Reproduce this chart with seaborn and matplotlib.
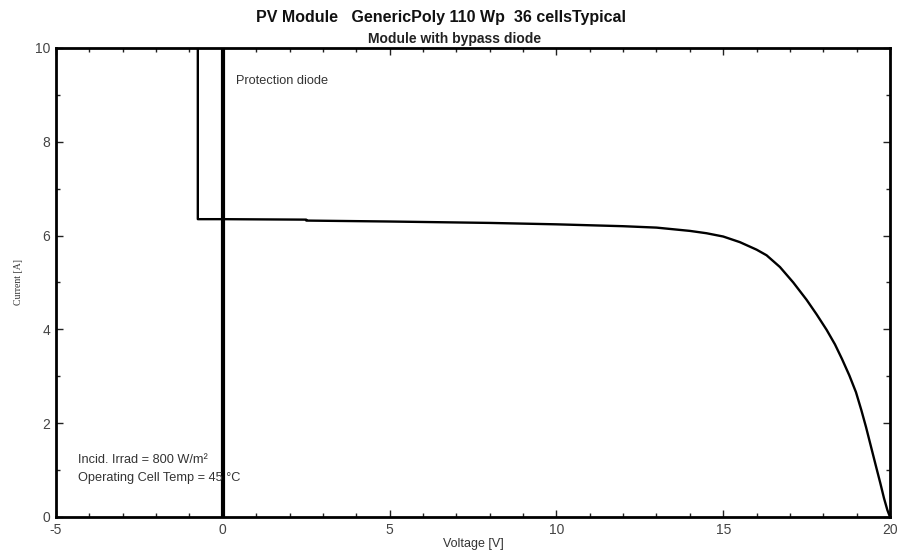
"""PV module I-V curve with bypass diode."""

import matplotlib
matplotlib.use("Agg")
import matplotlib.pyplot as plt
import pandas as pd
import seaborn as sns

# I-V curve (voltage [V], current [A])
voltage = [-0.75, -0.75, 0.0, 2.5, 2.5, 5.0, 8.0, 10.0, 12.0, 13.0, 14.0, 14.5,
           15.0, 15.5, 16.0, 16.3, 16.7, 17.1, 17.5, 17.8, 18.1, 18.35, 18.56,
           18.78, 18.98, 19.14, 19.28, 19.43, 19.58, 19.71, 19.82, 19.92, 20.0]
current = [10.0, 6.35, 6.35, 6.34, 6.32, 6.30, 6.27, 6.24, 6.20, 6.17, 6.10, 6.05,
           5.98, 5.86, 5.70, 5.58, 5.33, 5.00, 4.63, 4.32, 3.99, 3.68, 3.37,
           3.02, 2.66, 2.28, 1.92, 1.50, 1.08, 0.72, 0.40, 0.15, 0.0]

diode_x = [0.0, 0.0]
diode_y = [0.0, 10.0]

title = "PV Module   GenericPoly 110 Wp  36 cellsTypical"
subtitle = "Module with bypass diode"
notes = ["Incid. Irrad = 800 W/m²", "Operating Cell Temp = 45 °C"]


def main() -> None:
    sns.set_style("ticks")
    plt.rcParams["font.family"] = ["Liberation Sans", "DejaVu Sans"]
    plt.rcParams["axes.unicode_minus"] = False

    fig = plt.figure(figsize=(9.01, 5.54), dpi=100)
    ax = fig.add_axes([0.0622, 0.0668, 0.9256, 0.8466])

    df = pd.DataFrame({"voltage": voltage, "current": current})
    sns.lineplot(data=df, x="voltage", y="current", sort=False, estimator=None,
                 color="black", linewidth=1.7, ax=ax)
    sns.lineplot(x=diode_x, y=diode_y, sort=False, estimator=None,
                 color="black", linewidth=3.0, ax=ax)

    ax.set_xlim(-5, 20)
    ax.set_ylim(0, 10)
    ax.set_xticks([-5, 0, 5, 10, 15, 20])
    ax.set_xticks(range(-5, 21), minor=True)
    ax.set_yticks([0, 2, 4, 6, 8, 10])
    ax.set_yticks(range(0, 11), minor=True)
    ax.tick_params(which="both", direction="in", top=True, right=True,
                   colors="#222222", labelcolor="#444444", labelsize=10,
                   width=1)
    ax.tick_params(which="major", length=5, pad=4)
    ax.tick_params(which="minor", length=3)
    for s in ax.spines.values():
        s.set_linewidth(2)
        s.set_color("black")

    ax.set_xlabel("Voltage [V]", fontsize=9, color="#333333", labelpad=1)
    ax.set_ylabel("Current [A]", fontsize=7, color="#333333",
                  family=["Liberation Serif", "DejaVu Serif"], labelpad=9)

    fig.text(0.489, 0.968, title, ha="center", va="center", fontsize=11.5,
             fontweight="bold", color="#111111")
    fig.text(0.505, 0.930, subtitle, ha="center", va="center", fontsize=10,
             fontweight="bold", color="#222222")

    ax.text(0.4, 9.3, "Protection diode", fontsize=9.2, color="#333333",
            va="center")
    ax.text(-4.35, 1.22, notes[0], fontsize=9.2, color="#333333", va="center")
    ax.text(-4.35, 0.83, notes[1], fontsize=9.2, color="#333333", va="center")

    fig.savefig("out.png", dpi=100)
    plt.close(fig)


if __name__ == "__main__":
    main()
